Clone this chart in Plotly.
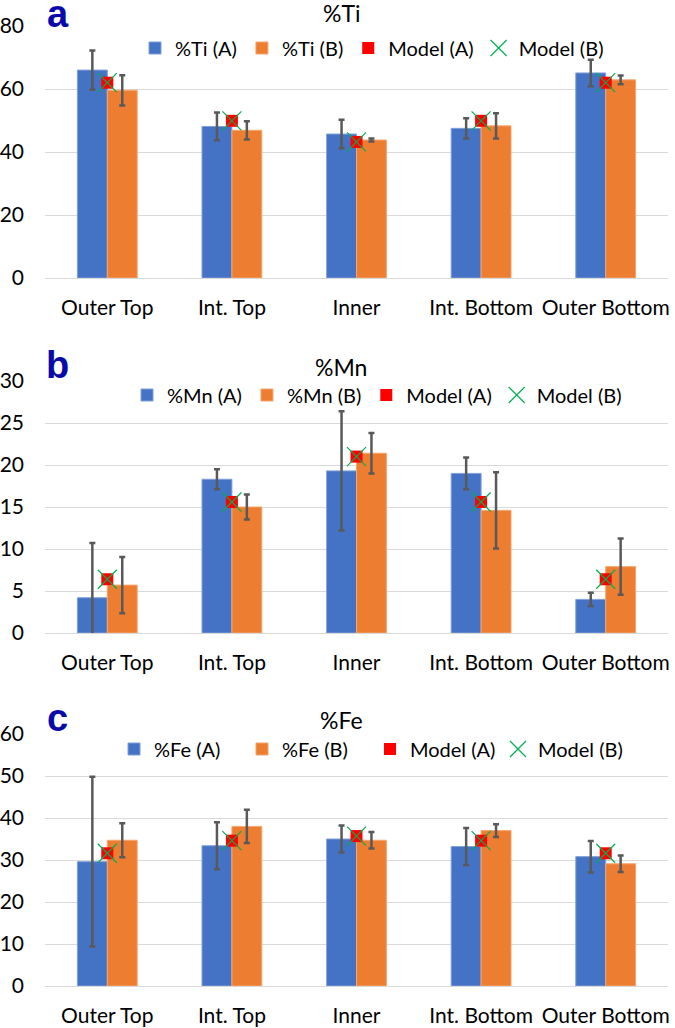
import plotly.graph_objects as go

categories = ["Outer Top", "Int. Top", "Inner", "Int. Bottom", "Outer Bottom"]

# Panel a: %Ti
ti_a = [66.0, 48.1, 45.7, 47.5, 65.1]
ti_a_err = [6.2, 4.4, 4.5, 3.2, 4.2]
ti_b = [59.6, 46.9, 43.8, 48.3, 62.9]
ti_b_err = [4.8, 2.9, 0.5, 4.0, 1.4]
ti_model_a = [62.0, 49.9, 43.2, 49.9, 62.0]
ti_model_b = [62.0, 49.9, 43.2, 49.9, 62.0]

# Panel b: %Mn
mn_a = [4.2, 18.3, 19.3, 19.0, 4.0]
mn_a_err = [6.5, 1.2, 7.1, 1.9, 0.8]
mn_b = [5.7, 15.0, 21.4, 14.6, 7.9]
mn_b_err = [3.35, 1.5, 2.4, 4.55, 3.35]
mn_model_a = [6.4, 15.6, 21.0, 15.6, 6.4]
mn_model_b = [6.4, 15.6, 21.0, 15.6, 6.4]

# Panel c: %Fe
fe_a = [29.6, 33.4, 35.0, 33.2, 30.8]
fe_a_err = [20.2, 5.6, 3.2, 4.4, 3.75]
fe_b = [34.7, 38.0, 34.7, 37.0, 29.1]
fe_b_err = [4.05, 3.95, 1.95, 1.5, 1.95]
fe_model_a = [31.6, 34.6, 35.7, 34.6, 31.6]
fe_model_b = [31.6, 34.6, 35.7, 34.6, 31.6]

panels = [
    dict(el="Ti", a=ti_a, ae=ti_a_err, b=ti_b, be=ti_b_err, ma=ti_model_a, mb=ti_model_b,
         rng=[0, 80], dtick=20, letter="a"),
    dict(el="Mn", a=mn_a, ae=mn_a_err, b=mn_b, be=mn_b_err, ma=mn_model_a, mb=mn_model_b,
         rng=[0, 30], dtick=5, letter="b"),
    dict(el="Fe", a=fe_a, ae=fe_a_err, b=fe_b, be=fe_b_err, ma=fe_model_a, mb=fe_model_b,
         rng=[0, 60], dtick=10, letter="c"),
]

W, H = 675, 1028
FONT = "Lato, 'Open Sans', sans-serif"
BLUE = "#4472C4"
ORANGE = "#ED7D31"
ERR = "#595959"
GRID = "#D9D9D9"

# pixel layout (top, bottom of each plot area)
plot_px = [(26, 278), (381, 633), (734, 986)]
title_px = [13, 367, 720]
legend_px = [48, 395, 749]
letter_px = [14, 365, 718]
x0_px, x1_px = 45, 668

legend_pos = [
    dict(x=372 / W, xanchor="center"),
    dict(x=377 / W, xanchor="center"),
    dict(x=114 / W, xanchor="left", entrywidth=83, entrywidthmode="pixels"),
]

fig = go.Figure()
annotations = []
layout_axes = {}

for i, p in enumerate(panels):
    n = "" if i == 0 else str(i + 1)
    xa, ya = "x" + n, "y" + n
    lg = "legend" + n
    err_common = dict(type="data", symmetric=True, color=ERR, thickness=2.5, width=3)
    fig.add_trace(go.Bar(
        x=categories, y=p["a"], name=f"%{p['el']} (A)", xaxis=xa, yaxis=ya, legend=lg,
        marker=dict(color=BLUE, line=dict(color="#7F9FD8", width=1)),
        error_y=dict(array=p["ae"], **err_common),
    ))
    fig.add_trace(go.Bar(
        x=categories, y=p["b"], name=f"%{p['el']} (B)", xaxis=xa, yaxis=ya, legend=lg,
        marker=dict(color=ORANGE, line=dict(color="#F4A66F", width=1)),
        error_y=dict(array=p["be"], **err_common),
    ))
    fig.add_trace(go.Scatter(
        x=categories, y=p["ma"], name="Model (A)", mode="markers", xaxis=xa, yaxis=ya, legend=lg,
        marker=dict(symbol="square", color="#FF0000", size=12, line=dict(width=0)),
    ))
    fig.add_trace(go.Scatter(
        x=categories, y=p["mb"], name="Model (B)", mode="markers", xaxis=xa, yaxis=ya, legend=lg,
        marker=dict(symbol="x-thin-open", color="#00B050", size=19,
                    line=dict(color="#00B050", width=1.2)),
    ))

    top, bot = plot_px[i]
    layout_axes["xaxis" + n] = dict(
        domain=[x0_px / W, x1_px / W], anchor=ya, type="category",
        showgrid=False, showline=False, zeroline=False, ticks="",
        tickfont=dict(family=FONT, size=21, color="#000000"),
        ticklabelstandoff=15, automargin=False,
    )
    layout_axes["yaxis" + n] = dict(
        domain=[1 - bot / H, 1 - top / H], anchor=xa, range=p["rng"], dtick=p["dtick"],
        showgrid=True, gridcolor=GRID, gridwidth=1.3, zeroline=True, zerolinecolor=GRID,
        zerolinewidth=1.3, showline=False, ticks="",
        tickfont=dict(family=FONT, size=21, color="#000000"),
        ticklabelstandoff=20, automargin=False,
    )
    layout_axes[lg] = dict(
        orientation="h", y=1 - legend_px[i] / H, yanchor="middle",
        font=dict(family=FONT, size=20, color="#000000"), bgcolor="rgba(0,0,0,0)",
        itemwidth=30, tracegroupgap=0, traceorder="normal",
        **legend_pos[i],
    )
    annotations.append(dict(
        text=f"%{p['el']}", x=341 / W, y=1 - title_px[i] / H, xref="paper", yref="paper",
        xanchor="center", yanchor="middle", showarrow=False,
        font=dict(family=FONT, size=23, color="#000000"),
    ))
    annotations.append(dict(
        text=f"<b>{p['letter']}</b>", x=58 / W, y=1 - letter_px[i] / H,
        xref="paper", yref="paper",
        xanchor="center", yanchor="middle", showarrow=False,
        font=dict(family="'Liberation Sans', Arial, sans-serif", size=38, color="#0A0AAA"),
    ))

fig.update_layout(
    width=W, height=H,
    margin=dict(l=0, r=0, t=0, b=0),
    paper_bgcolor="white", plot_bgcolor="white",
    barmode="group", bargap=0.52, bargroupgap=0,
    annotations=annotations,
    showlegend=True,
    **layout_axes,
)

# let the figure fill the window from its top-left corner (no default page margin)
fig.write_html(
    "out.html",
    config={"displayModeBar": False},
    post_script="document.body.style.margin='0';",
)
